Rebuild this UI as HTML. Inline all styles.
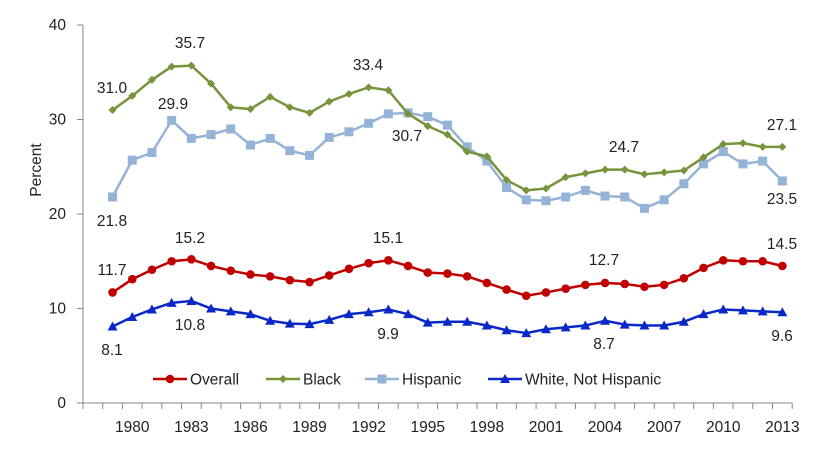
<!DOCTYPE html>
<html><head><meta charset="utf-8"><style>
html,body{margin:0;padding:0;background:#fff;}
svg{display:block;font-family:"Liberation Sans",sans-serif;}
text{font-size:15.5px;fill:#222;}
</style></head><body>
<svg id="c" width="837" height="452" viewBox="0 0 837 452" xmlns="http://www.w3.org/2000/svg">
<line x1="83" y1="25" x2="83" y2="403" stroke="#888" stroke-width="1"/>
<line x1="83" y1="403" x2="792" y2="403" stroke="#888" stroke-width="1"/>
<g stroke="#888"><line x1="77" y1="25" x2="83" y2="25"/><line x1="77" y1="119.5" x2="83" y2="119.5"/><line x1="77" y1="214" x2="83" y2="214"/><line x1="77" y1="308.5" x2="83" y2="308.5"/><line x1="77" y1="403" x2="83" y2="403"/></g>
<g id="ticks"></g>
<g text-anchor="end">
<text x="66" y="30">40</text><text x="66" y="124.5">30</text><text x="66" y="219">20</text><text x="66" y="313.5">10</text><text x="66" y="408">0</text>
</g>
<text x="41" y="170" text-anchor="middle" transform="rotate(-90 41 170)">Percent</text>
<g id="xl" text-anchor="middle"></g>
<g id="series"></g>
<g text-anchor="middle">
<text x="112" y="93">31.0</text><text x="190" y="48">35.7</text><text x="173" y="109">29.9</text>
<text x="368" y="70">33.4</text><text x="407" y="141">30.7</text><text x="112" y="226">21.8</text>
<text x="190" y="243">15.2</text><text x="388" y="243">15.1</text><text x="112" y="275">11.7</text>
<text x="190" y="330">10.8</text><text x="388" y="339">9.9</text><text x="112" y="355">8.1</text>
<text x="782" y="130">27.1</text><text x="624" y="152">24.7</text><text x="782" y="204">23.5</text>
<text x="782" y="249">14.5</text><text x="604" y="265">12.7</text><text x="604" y="349">8.7</text>
<text x="782" y="341">9.6</text>
</g>
<g id="leg"></g>
</svg>
<script>
var NS="http://www.w3.org/2000/svg";
function el(t,a,p){var e=document.createElementNS(NS,t);for(var k in a)e.setAttribute(k,a[k]);(p||document.getElementById('c')).appendChild(e);return e;}
var step=19.7;
function X(k){return 83+step*(k+0.5);}
function Y(v){return 403-v*9.45;}
var tg=document.getElementById('ticks');
for(var i=0;i<=36;i++){var x=83+step*i;el('line',{x1:x,y1:403,x2:x,y2:409,stroke:'#888'},tg);}
var xl=document.getElementById('xl');
for(var y=1980;y<=2013;y+=3){var t=el('text',{x:X(y-1978),y:432},xl);t.textContent=y;}
var D={
ov:[11.7,13.1,14.1,15.0,15.2,14.5,14.0,13.6,13.4,13.0,12.8,13.5,14.2,14.8,15.1,14.5,13.8,13.7,13.4,12.7,12.0,11.35,11.7,12.1,12.5,12.7,12.6,12.3,12.5,13.2,14.3,15.1,15.0,15.0,14.5],
bl:[31.0,32.5,34.2,35.6,35.7,33.8,31.3,31.1,32.4,31.3,30.7,31.9,32.7,33.4,33.1,30.6,29.3,28.4,26.6,26.1,23.6,22.5,22.7,23.9,24.3,24.7,24.7,24.2,24.4,24.6,26.0,27.4,27.5,27.1,27.1],
hi:[21.8,25.7,26.5,29.9,28.0,28.4,29.0,27.3,28.0,26.7,26.2,28.1,28.7,29.6,30.6,30.7,30.3,29.4,27.1,25.6,22.8,21.5,21.4,21.8,22.5,21.9,21.8,20.6,21.5,23.2,25.3,26.6,25.3,25.6,23.5],
wh:[8.1,9.1,9.9,10.6,10.8,10.0,9.7,9.4,8.7,8.4,8.35,8.8,9.4,9.6,9.9,9.4,8.5,8.6,8.6,8.2,7.7,7.4,7.8,8.0,8.2,8.7,8.3,8.2,8.2,8.6,9.4,9.9,9.8,9.7,9.6]};
var S={ov:{c:'#c00000',m:'circle'},bl:{c:'#77933c',m:'diamond'},hi:{c:'#95b3d7',m:'square'},wh:{c:'#0a28c8',m:'tri'}};
var sg=document.getElementById('series');
function marker(m,x,y,c,g){
 if(m=='circle')el('circle',{cx:x,cy:y,r:4.3,fill:c},g);
 else if(m=='diamond')el('polygon',{points:(x)+','+(y-4)+' '+(x+4)+','+y+' '+x+','+(y+4)+' '+(x-4)+','+y,fill:c},g);
 else if(m=='square')el('rect',{x:x-4.5,y:y-4.5,width:9,height:9,fill:c},g);
 else el('polygon',{points:x+','+(y-5)+' '+(x+5)+','+(y+4)+' '+(x-5)+','+(y+4),fill:c},g);
}
['hi','bl','wh','ov'].forEach(function(k){
 var pts=D[k].map(function(v,i){return X(i+1)+','+Y(v);}).join(' ');
 el('polyline',{points:pts,fill:'none',stroke:S[k].c,'stroke-width':2.5,'stroke-linejoin':'round'},sg);
 D[k].forEach(function(v,i){marker(S[k].m,X(i+1),Y(v),S[k].c,sg);});
});
var lg=document.getElementById('leg');
[['ov',153,'Overall'],['bl',266,'Black'],['hi',365,'Hispanic'],['wh',488,'White, Not Hispanic']].forEach(function(a){
 var c=S[a[0]].c;
 el('line',{x1:a[1],y1:379,x2:a[1]+34,y2:379,stroke:c,'stroke-width':2.5},lg);
 marker(S[a[0]].m,a[1]+17,379,c,lg);
 var t=el('text',{x:a[1]+37,y:384.5},lg);t.textContent=a[2];
});
</script>
</body></html>
